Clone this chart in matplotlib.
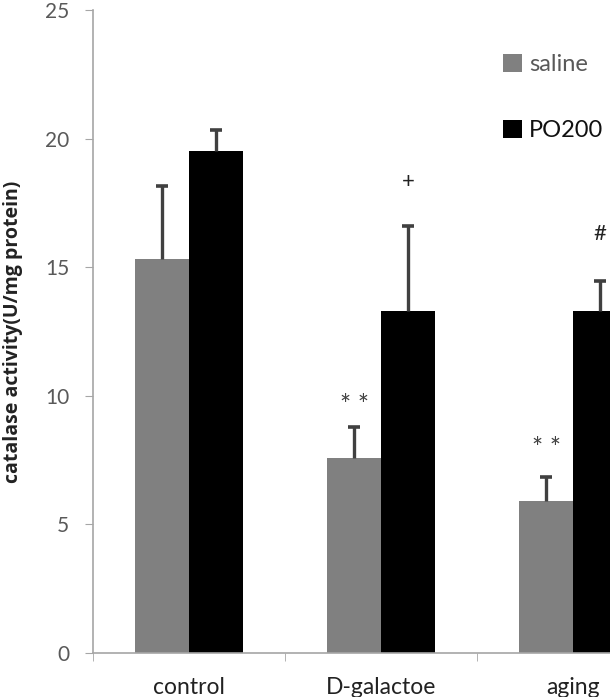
import numpy as np
import matplotlib.pyplot as plt

groups = ['control', 'D-galactoe', 'aging']
saline = [15.3, 7.6, 5.9]
saline_err = [2.85, 1.2, 0.95]
po200 = [19.5, 13.3, 13.3]
po200_err = [0.85, 3.3, 1.15]
marks_saline = ['', '**', '**']
marks_po200 = ['', '+', '#']
mark_y_saline = [None, 9.6, 7.9]
mark_y_po200 = [None, 18.3, 16.3]

plt.rcParams['font.family'] = ['Lato', 'DejaVu Sans']

fig = plt.figure(figsize=(6.1, 6.97), dpi=100)
ax = fig.add_axes([93 / 610, 44 / 697, 576 / 610, 643 / 697])

x = np.arange(len(groups))
w = 0.28
ax.bar(x - w / 2, saline, w, color='#808080', label='saline')
ax.bar(x + w / 2, po200, w, color='black', label='PO200')

# upper-only error bars with a cap at the top
for xs, ys, es in [(x - w / 2, saline, saline_err), (x + w / 2, po200, po200_err)]:
    ys = np.array(ys)
    es = np.array(es)
    ax.vlines(xs, ys, ys + es, color='#404040', lw=2.4)
    ax.plot(xs, ys + es, ls='none', marker='_', ms=9, mew=2.6, color='#404040')

for i in range(len(groups)):
    if marks_saline[i]:
        ax.text(x[i] - w / 2, mark_y_saline[i], marks_saline[i].replace('**', '* *'),
                ha='center', va='center', fontsize=19, color='#404040')
    if marks_po200[i]:
        ax.text(x[i] + w / 2, mark_y_po200[i], marks_po200[i], ha='center',
                va='center', fontsize=16, color='#222222')

ax.set_xlim(-0.5, 2.5)
ax.set_ylim(0, 25)
ax.set_yticks([0, 5, 10, 15, 20, 25])
ax.set_xticks(x)
ax.set_xticklabels(groups)
ax.set_xticks([-0.5, 0.5, 1.5, 2.5], minor=True)
ax.tick_params(axis='x', which='major', length=0, pad=17, labelsize=16.5,
               labelcolor='#222222')
ax.tick_params(axis='x', which='minor', length=6, color='#a6a6a6', direction='out')
ax.tick_params(axis='y', length=6, color='#a6a6a6', pad=11, labelsize=15,
               labelcolor='#595959')

for s in ['top', 'right']:
    ax.spines[s].set_visible(False)
for s in ['left', 'bottom']:
    ax.spines[s].set_color('#a6a6a6')
    ax.spines[s].set_linewidth(1.2)

ax.set_ylabel('catalase activity(U/mg protein)', fontsize=14, fontweight='bold',
              color='#222222', family=['Open Sans', 'DejaVu Sans'])
ax.yaxis.set_label_coords(-0.122, 0.5)

ax.legend(loc='upper left', bbox_to_anchor=(0.712, 0.932), frameon=False,
          borderpad=0, borderaxespad=0,
          handlelength=0.8, handleheight=0.8, handletextpad=0.3,
          labelspacing=1.9, fontsize=17, labelcolor=['#595959', '#111111'])

fig.savefig('out.png', dpi=100)
